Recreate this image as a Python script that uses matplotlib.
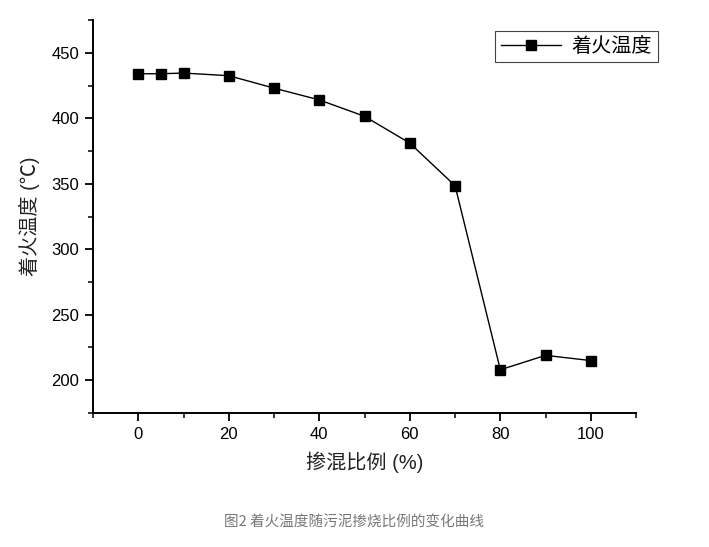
import matplotlib.pyplot as plt
from matplotlib.ticker import MultipleLocator

plt.rcParams['font.family'] = ['Liberation Sans', 'Noto Sans CJK SC', 'DejaVu Sans']

ratio = [0, 5, 10, 20, 30, 40, 50, 60, 70, 80, 90, 100]          # 掺混比例 (%)
temp = [434, 434, 434.5, 432.5, 423, 414, 401.5, 381, 348.5, 208, 219, 215]  # 着火温度 (℃)
series_name = '着火温度'

fig = plt.figure(figsize=(7.09, 5.47), dpi=100)
ax = fig.add_axes([0.1312, 0.245, 0.766, 0.7184])

ax.plot(ratio, temp, '-s', color='black', lw=1.0, ms=6.5, label=series_name)

ax.set_xlim(-10, 110)
ax.set_ylim(175, 475)
ax.xaxis.set_major_locator(MultipleLocator(20))
ax.xaxis.set_minor_locator(MultipleLocator(10))
ax.yaxis.set_major_locator(MultipleLocator(50))
ax.yaxis.set_minor_locator(MultipleLocator(25))
ax.tick_params(which='major', direction='out', length=6, width=1.3, labelsize=12, pad=4)
ax.tick_params(which='minor', direction='out', length=3.5, width=1.1)

for s in ['top', 'right']:
    ax.spines[s].set_visible(False)
for s in ['left', 'bottom']:
    ax.spines[s].set_linewidth(1.4)

ax.set_xlabel('掺混比例 (%)', fontsize=14.5, labelpad=7, color='#222222')
ax.set_ylabel('着火温度 (℃)', fontsize=14.5, labelpad=8, color='#222222')

leg = ax.legend(loc='upper right', bbox_to_anchor=(0.928, 0.943),
                bbox_transform=fig.transFigure, fontsize=14.5, fancybox=False,
                edgecolor='#444444', framealpha=1, borderpad=0.3,
                handlelength=3.0, handletextpad=0.5, borderaxespad=0)
leg.get_frame().set_linewidth(0.8)

fig.text(0.5, 0.045, '图2 着火温度随污泥掺烧比例的变化曲线', ha='center', va='center',
         fontsize=10.5, color='#777777', family=['Noto Sans CJK SC', 'DejaVu Sans'])

fig.savefig('out.png', dpi=100)
